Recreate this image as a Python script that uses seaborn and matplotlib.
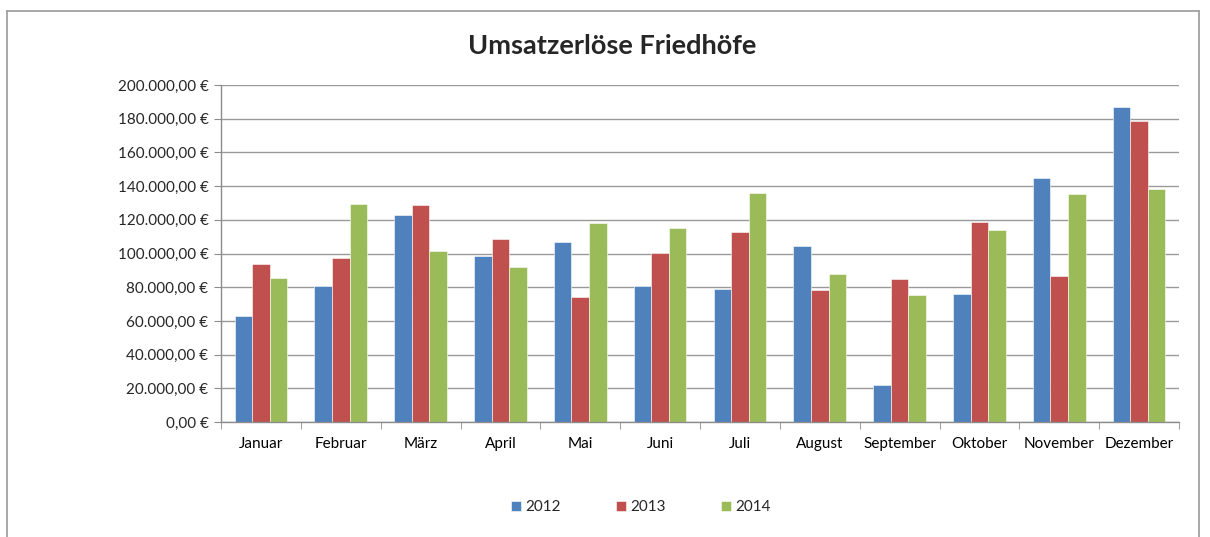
import pandas as pd
import numpy as np
import matplotlib
matplotlib.use('Agg')
import matplotlib.pyplot as plt
import seaborn as sns
from matplotlib.ticker import FuncFormatter, FixedLocator

monate = ['Januar', 'Februar', 'März', 'April', 'Mai', 'Juni', 'Juli',
          'August', 'September', 'Oktober', 'November', 'Dezember']
jahre = ['2012', '2013', '2014']

umsatz_2012 = [63000, 81000, 122600, 98400, 107100, 81000, 79000, 104600, 22000, 76000, 144800, 187100]
umsatz_2013 = [93700, 97400, 128900, 108900, 74100, 100400, 112500, 78200, 84600, 118600, 86900, 178800]
umsatz_2014 = [85500, 129300, 101200, 91700, 118000, 115200, 136200, 87900, 75200, 113900, 135600, 138200]

farben = ['#4F81BD', '#C0504D', '#9BBB59']

# Tabelle im Langformat für seaborn
df = pd.DataFrame({
    'Monat': monate * 3,
    'Jahr': np.repeat(jahre, len(monate)),
    'Umsatz': umsatz_2012 + umsatz_2013 + umsatz_2014,
})

sns.set_style('white')
plt.rcParams['font.family'] = ['Lato', 'DejaVu Sans']

fig = plt.figure(figsize=(12.1, 5.37), dpi=100)
ax = fig.add_axes([221 / 1210, 1 - 422 / 537, 958 / 1210, 337 / 537])

sns.barplot(data=df, x='Monat', y='Umsatz', hue='Jahr', order=monate,
            hue_order=jahre, palette=farben, width=0.66, ax=ax,
            edgecolor='white', linewidth=0.4, saturation=1)

ax.set_ylim(0, 200000)
ax.set_xlim(-0.5, len(monate) - 0.5)
ax.set_yticks(np.arange(0, 200001, 20000))


def euro(v, pos):
    s = f'{v:,.2f}'.replace(',', 'X').replace('.', ',').replace('X', '.')
    return s + ' €'


ax.yaxis.set_major_formatter(FuncFormatter(euro))
ax.grid(axis='y', color='#9a9a9a', linewidth=1)
ax.set_axisbelow(True)
ax.set_xlabel('')
ax.set_ylabel('')

for s in ['top', 'right']:
    ax.spines[s].set_visible(False)
for s in ['left', 'bottom']:
    ax.spines[s].set_color('#8c8c8c')
    ax.spines[s].set_linewidth(1)

ax.xaxis.set_minor_locator(FixedLocator(np.arange(-0.5, len(monate), 1)))
ax.tick_params(axis='x', which='major', length=0, labelsize=11, pad=11, colors='black')
ax.tick_params(axis='x', which='minor', length=5, color='#8c8c8c', direction='out', bottom=True)
ax.tick_params(axis='y', length=5, color='#8c8c8c', direction='out', left=True, labelsize=11, pad=4)

leg = ax.legend(loc='center', bbox_to_anchor=(641 / 1210, 1 - 507 / 537),
                bbox_transform=fig.transFigure, ncol=3, frameon=False,
                fontsize=11, handlelength=0.65, handleheight=0.65,
                columnspacing=3.6, handletextpad=0.3)

fig.text(612 / 1210, 1 - 46 / 537, 'Umsatzerlöse Friedhöfe', ha='center', va='center',
         fontsize=19.5, fontweight='bold')

# Rahmen des Diagrammbereichs
fig.add_artist(plt.Line2D([7 / 1210, 1199 / 1210], [1 - 11 / 537, 1 - 11 / 537],
                          transform=fig.transFigure, color='#9a9a9a', linewidth=1.2))
fig.add_artist(plt.Line2D([7 / 1210, 7 / 1210], [0, 1 - 11 / 537],
                          transform=fig.transFigure, color='#9a9a9a', linewidth=1.2))
fig.add_artist(plt.Line2D([1199 / 1210, 1199 / 1210], [0, 1 - 11 / 537],
                          transform=fig.transFigure, color='#9a9a9a', linewidth=1.2))

fig.savefig('out.png', dpi=100)
